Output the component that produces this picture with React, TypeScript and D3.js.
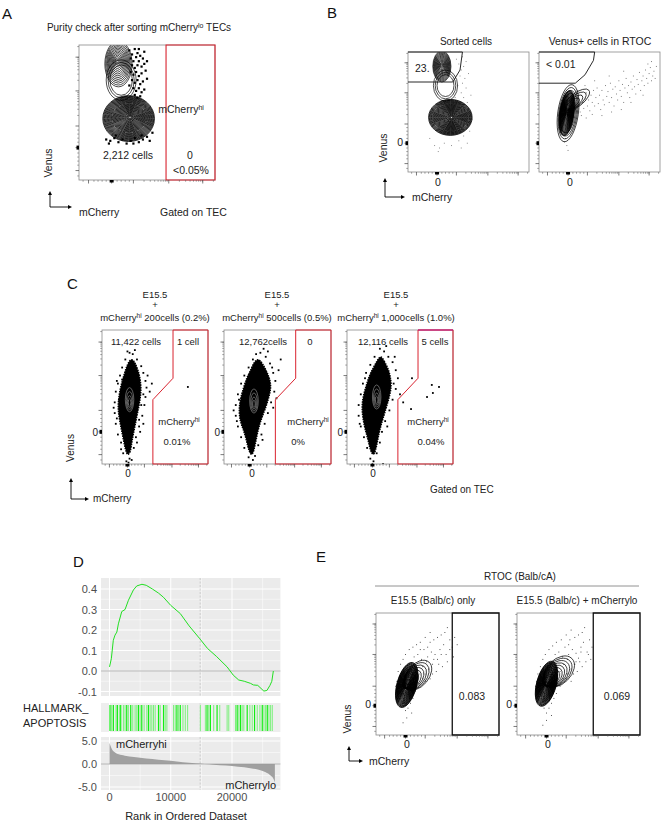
import React from 'react';
import * as d3 from 'd3';

const FONT = 'Liberation Sans, Arial, Helvetica, sans-serif';

// ---------------- GSEA data (panel D) ----------------
const esRank = [0, 300, 620, 900, 1200, 1450, 2000, 2540, 3090, 3900, 4450, 5300, 6000, 7000, 8000, 8800, 10000, 11560, 13000, 14670, 16000, 17500, 19200, 20200, 21100, 22000, 23000, 23500, 24200, 25200, 25700, 26200, 26500, 26750];
const esValue = [0.02, 0.06, 0.15, 0.175, 0.19, 0.23, 0.29, 0.30, 0.345, 0.395, 0.415, 0.423, 0.418, 0.40, 0.38, 0.36, 0.32, 0.28, 0.22, 0.16, 0.11, 0.07, 0.02, -0.02, -0.044, -0.05, -0.06, -0.068, -0.07, -0.098, -0.095, -0.07, -0.05, 0.0];
const metricRank = [0, 150, 400, 800, 1500, 2500, 4000, 6000, 8000, 10000, 12000, 14000, 15500, 17000, 19000, 21000, 23000, 24500, 25500, 26300, 26800, 27000];
const metricValue = [4.6, 4.0, 3.2, 2.6, 2.1, 1.8, 1.5, 1.2, 0.95, 0.7, 0.4, 0.15, 0, -0.15, -0.35, -0.6, -0.9, -1.3, -1.8, -2.5, -3.3, -4.0];
const hitsStrong = [82, 628, 1283, 1830, 2813, 3468, 4725, 5271, 6363, 8002, 8822, 11009, 11555, 15925, 16471, 17564, 20842, 21388, 22481, 23683, 24940, 25759];
const hitsLight = [355, 1065, 1611, 2267, 2540, 3086, 3796, 4179, 4452, 4998, 5653, 6090, 6636, 6910, 7183, 7456, 8275, 9095, 9368, 10460, 10736, 11282, 11992, 12374, 12757, 14833, 15652, 16198, 17017, 18001, 19203, 19476, 20569, 21115, 21661, 21934, 22918, 23300, 24120, 24557, 25213, 25486, 26032, 26305, 26578];
const esTicksY = [-0.1, 0.0, 0.1, 0.2, 0.3, 0.4];
const metricTicksY = [-5, 0, 5];
const rankTicks = [0, 10000, 20000];
const midRank = 14800;

// ---------------- FACS data (all in 0-100 plot units) ----------------
type Pop = { x: number; y: number; rx: number; ry: number; rot?: number; levels: number; dx?: number; dy?: number; minF?: number; color?: string; sw?: number };

const popsA: Pop[] = [
  { x: 31, y: 74, rx: 11, ry: 15, levels: 3, minF: 0.75 },
  { x: 29, y: 86, rx: 10, ry: 17, levels: 14, dx: -1, dy: 2, minF: 0.08 },
  { x: 36.5, y: 45.5, rx: 19, ry: 17, levels: 34, dx: 1, dy: 1, minF: 0.05, sw: 0.8 },
];
const dotsA = [[37, 96], [39, 93], [41, 97], [43, 94], [38, 90], [40, 88], [42, 91], [45, 92], [44, 88], [47, 90], [39, 85], [41, 83], [43, 85], [46, 84], [48, 86], [38, 80], [40, 78], [42, 80], [44, 77], [46, 79], [49, 81], [39, 74], [41, 72], [43, 74], [45, 71], [47, 73], [40, 68], [42, 66], [44, 68], [46, 65], [48, 67], [41, 63], [43, 61], [45, 62], [37, 70], [50, 75], [48, 95], [44, 97], [50, 88],
  [20, 30], [23, 29], [26, 31], [29, 28], [32, 30], [35, 27], [38, 29], [41, 31], [44, 28], [47, 30], [50, 32], [52, 29], [22, 27], [40, 27], [46, 33], [27, 33], [54, 35]];
const gateA = [[64, 100], [100, 100], [100, 0], [64, 0]];

const popsB1: Pop[] = [
  { x: 31, y: 72, rx: 10, ry: 13, levels: 3, minF: 0.7 },
  { x: 28, y: 88, rx: 7.5, ry: 13, levels: 16, dy: 1, minF: 0.08 },
  { x: 35, y: 45.5, rx: 18, ry: 15, levels: 32, dx: 1, minF: 0.05, sw: 0.8 },
];
const dotsB1 = [[42, 90], [44, 85], [46, 88], [43, 80], [47, 78], [45, 74], [48, 70], [44, 66], [46, 62], [49, 58], [43, 55], [47, 52], [50, 48], [45, 44], [48, 40], [44, 36], [51, 34], [46, 30], [42, 26], [49, 24], [44, 20], [22, 22], [26, 20], [30, 24], [18, 28], [40, 94], [45, 96], [50, 82], [41, 72], [52, 64], [39, 62], [53, 44], [36, 22], [25, 17], [43, 47], [48, 92]];
const gateB1 = [[0, 75], [37, 75], [43, 85], [45, 100], [0, 100]];

const popsB2: Pop[] = [
  { x: 31, y: 60, rx: 13, ry: 5.5, rot: -38, levels: 4, dx: -3, dy: -3, minF: 0.5 },
  { x: 24, y: 49, rx: 8.5, ry: 24, rot: 8, levels: 4, minF: 0.7 },
  { x: 23, y: 49, rx: 6, ry: 19, rot: 8, levels: 26, minF: 0.06, sw: 0.8 },
];
const dotsB2 = [[28, 58], [30, 52], [31, 62], [33, 56], [34, 50], [35, 64], [36, 58], [37, 53], [38, 61], [39, 66], [40, 55], [41, 60], [42, 51], [43, 64], [44, 58], [45, 68], [46, 55], [47, 62], [48, 70], [49, 57], [50, 64], [51, 52], [52, 68], [53, 60], [54, 56], [55, 72], [56, 63], [57, 67], [58, 58], [59, 74], [60, 62], [61, 69], [62, 55], [63, 71], [64, 65], [65, 60], [66, 76], [67, 68], [68, 63], [69, 73], [70, 58], [71, 70], [72, 78], [73, 66], [74, 72], [75, 62], [76, 75], [77, 69], [78, 80], [79, 71], [80, 65], [81, 77], [82, 73], [83, 83], [84, 68], [85, 76], [86, 80], [87, 72], [88, 85], [89, 78], [90, 74], [91, 82], [92, 87], [93, 76], [94, 80], [95, 84], [96, 78], [97, 88], [44, 48], [52, 47], [60, 50], [68, 52], [76, 58], [86, 64], [32, 68], [38, 72], [46, 76], [58, 80], [70, 84], [22, 28], [23, 22], [24, 18], [21, 25], [35, 47], [39, 45], [90, 90], [93, 92]];
const gateB2 = [[0, 74], [30, 74], [38, 81], [45, 93], [46, 100], [0, 100]];

// Panel C blobs
const blobC1 = [[28, 79], [31, 76], [34, 70], [36, 64], [37, 56], [36, 48], [34, 40], [32, 32], [30, 24], [28, 16], [27, 9], [24, 6], [22, 11], [20, 19], [18, 27], [16, 35], [15, 43], [16, 51], [18, 59], [21, 67], [24, 75]];
const dotsC1 = [[26, 83], [29, 82], [33, 78], [37, 73], [39, 68], [41, 62], [42, 57], [41, 50], [40, 44], [38, 36], [35, 28], [32, 20], [30, 12], [26, 4], [23, 2], [20, 8], [18, 16], [15, 22], [13, 30], [12, 38], [12, 46], [13, 54], [15, 60], [17, 66], [19, 72], [22, 78], [45, 54], [47, 60], [31, 85], [24, 84], [18, 11], [36, 24], [39, 30], [11, 42], [43, 66], [14, 62], [81, 57.5], [34, 64], [39, 52], [37, 44], [14, 34], [16, 48], [19, 63], [35, 33], [33, 16], [28, 3], [25, 1]];
const blobC2 = [[32, 79], [36, 75], [40, 69], [43, 63], [44, 57], [42, 50], [39, 42], [35, 34], [32, 26], [30, 18], [28, 10], [26, 6], [23, 10], [21, 18], [18, 26], [15, 32], [14, 40], [15, 48], [18, 56], [21, 64], [25, 70], [28, 76]];
const dotsC2 = [[34, 83], [39, 80], [43, 75], [46, 68], [48, 62], [47, 54], [44, 46], [41, 38], [38, 30], [35, 22], [32, 14], [29, 6], [27, 3], [23, 5], [19, 12], [16, 20], [13, 28], [11, 36], [11, 44], [13, 52], [16, 60], [19, 66], [23, 72], [27, 78], [53, 78], [51, 70], [30, 82], [9, 40], [41, 84], [37, 86], [46, 42], [49, 49], [45, 72], [12, 32], [14, 48], [40, 58], [36, 18]];
const blobC3 = [[32, 81], [35, 77], [39, 71], [41, 65], [42, 58], [40, 50], [37, 42], [34, 34], [31, 26], [29, 18], [27, 10], [25, 6], [22, 10], [20, 18], [17, 26], [15, 34], [14, 42], [15, 50], [18, 58], [21, 66], [25, 72], [29, 78]];
const dotsC3 = [[31, 86], [35, 84], [39, 80], [43, 76], [46, 70], [48, 64], [46, 56], [43, 48], [40, 40], [36, 32], [33, 24], [31, 16], [28, 8], [25, 2], [22, 4], [19, 12], [16, 20], [13, 28], [11, 36], [11, 44], [13, 52], [15, 60], [18, 68], [22, 74], [26, 80], [50, 52], [53, 46], [24, 0], [34, 0], [37, 88], [45, 80], [61.3, 64], [80, 59], [86.8, 57.5], [81, 53], [75.5, 50], [60.4, 41], [12, 30], [44, 60], [17, 64], [38, 28]];
const coreC = [{ x: 26, y: 48 }, { x: 28, y: 47 }, { x: 28, y: 50 }];
const gateC = [[67, 100], [100, 100], [100, 0], [48, 0], [48, 48], [67, 64]];

// Panel E
const popsE1: Pop[] = [
  { x: 34, y: 49, rx: 14, ry: 9, rot: -50, levels: 9, dx: -9, dy: -7, minF: 0.3 },
  { x: 25, y: 41, rx: 8, ry: 19, rot: 15, levels: 30, minF: 0.05, sw: 0.8 },
];
const dotsE1 = [[18, 52], [20, 58], [22, 62], [24, 66], [27, 70], [30, 72], [33, 74], [36, 76], [39, 70], [42, 72], [45, 68], [48, 66], [50, 62], [46, 58], [43, 54], [40, 50], [38, 46], [35, 42], [32, 36], [30, 30], [28, 26], [26, 22], [24, 20], [22, 24], [20, 30], [18, 36], [17, 44], [52, 70], [55, 74], [57, 66], [60, 78], [58, 60], [54, 56], [49, 52], [44, 46], [41, 60], [37, 62], [34, 66], [31, 64], [62, 72], [64, 80], [47, 78], [50, 80], [53, 82], [56, 84], [40, 80], [25, 14], [22, 10], [29, 18], [38, 56], [42, 64], [46, 50], [51, 58], [35, 50], [60, 70], [44, 84], [58, 88], [63, 64], [66, 74], [16, 40], [19, 48], [21, 34], [27, 30], [33, 40], [40, 44], [47, 62], [53, 66], [44, 76], [36, 70]];
const popsE2: Pop[] = [
  { x: 34, y: 52, rx: 15, ry: 10, rot: -45, levels: 10, dx: -9, dy: -8, minF: 0.3 },
  { x: 24, y: 42, rx: 8, ry: 19, rot: 15, levels: 30, minF: 0.05, sw: 0.8 },
];
const dotsE2 = [[17, 50], [19, 56], [21, 62], [23, 66], [26, 70], [29, 73], [32, 76], [36, 78], [39, 72], [42, 74], [45, 70], [48, 67], [50, 63], [47, 58], [44, 54], [41, 50], [38, 46], [35, 40], [32, 34], [30, 30], [28, 26], [26, 22], [24, 18], [22, 22], [20, 30], [18, 36], [16, 44], [52, 72], [54, 76], [57, 68], [59, 78], [56, 60], [53, 56], [49, 52], [44, 44], [41, 62], [37, 64], [34, 68], [31, 66], [61, 72], [47, 80], [50, 82], [53, 84], [40, 82], [24, 12], [21, 8], [28, 16], [38, 58], [42, 66], [46, 50], [51, 60], [35, 52], [58, 66], [44, 86], [55, 88], [60, 62], [15, 40], [18, 46], [20, 32], [26, 28], [33, 42], [40, 46], [48, 60], [52, 68], [43, 78]];
const gateE = [[62, 100], [100, 100], [100, 0], [62, 0]];

// FACS axis ticks
const facsMajor = [7, 24, 40, 66, 91];
const facsLinMinor = [3, 11, 14, 17, 20, 28, 31, 34, 37];
const facsDecades = [40, 66, 91];
const facsDecadeSpan = 26;
const facsZero = 24;

function facsMinorTicks(): number[] {
  const out = [...facsLinMinor];
  facsDecades.forEach((d) => {
    for (let k = 2; k < 10; k++) {
      const v = d + Math.log10(k) * facsDecadeSpan;
      if (v < 99) out.push(v);
    }
  });
  return out;
}

type FacsProps = {
  id: string; left: number; top: number; w: number; h: number;
  pops?: Pop[]; dots?: number[][]; dotSize?: number; dotColor?: string;
  blob?: number[][]; core?: { x: number; y: number }[];
  gate?: number[][]; gateColor?: string; gateWidth?: number; gateClosed?: boolean;
  under?: React.ReactNode;
};

function FacsPlot(p: FacsProps) {
  const sx = d3.scaleLinear().domain([0, 100]).range([p.left, p.left + p.w]);
  const sy = d3.scaleLinear().domain([0, 100]).range([p.top + p.h, p.top]);
  const kx = p.w / 100, ky = p.h / 100;
  const minor = facsMinorTicks();
  const line = d3.line<number[]>().x((d) => sx(d[0])).y((d) => sy(d[1]));
  const blobLine = d3.line<number[]>().x((d) => sx(d[0])).y((d) => sy(d[1])).curve(d3.curveBasisClosed);
  const rings: React.ReactNode[] = [];
  (p.pops || []).forEach((pop, pi) => {
    const minF = pop.minF ?? 0.08;
    for (let k = 0; k < pop.levels; k++) {
      const t = pop.levels > 1 ? k / (pop.levels - 1) : 0;
      const f = 1 - t * (1 - minF);
      const cx = sx(pop.x + (pop.dx || 0) * t);
      const cy = sy(pop.y + (pop.dy || 0) * t);
      rings.push(
        <ellipse key={`r${pi}-${k}`} cx={cx} cy={cy} rx={pop.rx * kx * f} ry={pop.ry * ky * f}
          transform={`rotate(${pop.rot || 0} ${cx} ${cy})`} fill="none" stroke={pop.color || '#000'} strokeWidth={pop.sw || 0.7} />
      );
    }
  });
  const ds = p.dotSize ?? 1.2;
  return (
    <g>
      <defs>
        <clipPath id={p.id}><rect x={p.left} y={p.top} width={p.w} height={p.h} /></clipPath>
      </defs>
      <rect x={p.left} y={p.top} width={p.w} height={p.h} fill="#fff" />
      {p.under}
      <g clipPath={`url(#${p.id})`}>
        {(p.dots || []).map((d, i) => (
          <rect key={`d${i}`} x={sx(d[0]) - ds / 2} y={sy(d[1]) - ds / 2} width={ds} height={ds} fill={p.dotColor || '#000'} />
        ))}
        {p.blob && <path d={blobLine(p.blob) || ''} fill="#000" stroke="#000" strokeWidth={1.5} strokeDasharray="1.5,1" />}
        {rings}
        {(p.core || []).map((c, i) => (
          <g key={`c${i}`}>
            {[1, 0.75, 0.5, 0.3].map((f, j) => (
              <ellipse key={j} cx={sx(c.x)} cy={sy(c.y) + 4 * (1 - f)} rx={4 * kx * f} ry={9 * ky * f} fill="none" stroke="#9a9a9a" strokeWidth={0.6} />
            ))}
          </g>
        ))}
      </g>
      <rect x={p.left} y={p.top} width={p.w} height={p.h} fill="none" stroke="#8a8a8a" strokeWidth={0.8} />
      {p.gate && (
        <path d={(line(p.gate) || '') + (p.gateClosed === false ? '' : 'Z')} fill="none" stroke={p.gateColor || '#000'} strokeWidth={p.gateWidth || 1} />
      )}
      {facsMajor.map((v, i) => (
        <g key={`M${i}`}>
          <line x1={p.left} x2={p.left - 3.5} y1={sy(v)} y2={sy(v)} stroke="#444" strokeWidth={0.7} />
          <line y1={p.top + p.h} y2={p.top + p.h + 3.5} x1={sx(v)} x2={sx(v)} stroke="#444" strokeWidth={0.7} />
        </g>
      ))}
      {minor.map((v, i) => (
        <g key={`m${i}`}>
          <line x1={p.left} x2={p.left - 1.8} y1={sy(v)} y2={sy(v)} stroke="#555" strokeWidth={0.5} />
          <line y1={p.top + p.h} y2={p.top + p.h + 1.8} x1={sx(v)} x2={sx(v)} stroke="#555" strokeWidth={0.5} />
        </g>
      ))}
      <rect x={p.left - 2.5} y={sy(facsZero) - 2} width={2.5} height={4} fill="#000" />
      <rect x={sx(facsZero) - 2} y={p.top + p.h} width={4} height={2.5} fill="#000" />
    </g>
  );
}

function T(props: any) {
  const { children, size = 10, anchor = 'start', fill = '#222', ...rest } = props;
  return (
    <text fontFamily={FONT} fontSize={size} textAnchor={anchor} fill={fill} {...rest}>{children}</text>
  );
}

function Sup({ t, size = 7 }: { t: string; size?: number }) {
  return <tspan dy={-3.5} fontSize={size}>{t}</tspan>;
}

function AxisArrow({ x, y, up, right }: { x: number; y: number; up: number; right: number }) {
  return (
    <g>
      <line x1={x} y1={y} x2={x} y2={y - up + 3} stroke="#000" strokeWidth={0.9} />
      <path d={`M${x - 2},${y - up + 4} L${x},${y - up} L${x + 2},${y - up + 4} Z`} fill="#000" />
      <line x1={x} y1={y} x2={x + right - 3} y2={y} stroke="#000" strokeWidth={0.9} />
      <path d={`M${x + right - 4},${y - 2} L${x + right},${y} L${x + right - 4},${y + 2} Z`} fill="#000" />
    </g>
  );
}

function GseaPanel() {
  const gx = d3.scaleLinear().domain([0, 20000]).range([109.5, 232]);
  const xL = gx(-1390), xR = gx(27900);
  const gy = d3.scaleLinear().domain([0, 0.4]).range([671, 589]);
  const my = d3.scaleLinear().domain([-5, 5]).range([787, 741]);
  const top1 = 578, bot1 = 696, top2 = 703, bot2 = 732, top3 = 737, bot3 = 790;
  const esLine = d3.line<number>().x((_, i) => gx(esRank[i])).y((d) => gy(d));
  const mArea = d3.area<number>().x((_, i) => gx(metricRank[i])).y0(my(0)).y1((d) => my(d)).curve(d3.curveMonotoneX);
  const xMajor = rankTicks;
  const xMinor = [5000, 15000, 25000];
  const esMinor = [-0.05, 0.05, 0.15, 0.25, 0.35];
  const mMinor = [-2.5, 2.5];
  const bg = '#ebebeb';
  const labCol = '#4d4d4d';
  return (
    <g>
      <rect x={xL} y={top1} width={xR - xL} height={bot1 - top1} fill={bg} />
      {esMinor.map((v) => <line key={`em${v}`} x1={xL} x2={xR} y1={gy(v)} y2={gy(v)} stroke="#fff" strokeWidth={0.5} />)}
      {xMinor.map((v) => <line key={`xm${v}`} x1={gx(v)} x2={gx(v)} y1={top1} y2={bot1} stroke="#fff" strokeWidth={0.5} />)}
      {esTicksY.map((v) => <line key={`eM${v}`} x1={xL} x2={xR} y1={gy(v)} y2={gy(v)} stroke="#fff" strokeWidth={1} />)}
      {xMajor.map((v) => <line key={`xM${v}`} x1={gx(v)} x2={gx(v)} y1={top1} y2={bot1} stroke="#fff" strokeWidth={1} />)}
      <line x1={xL} x2={xR} y1={gy(0)} y2={gy(0)} stroke="#aaa" strokeWidth={0.9} />
      <line x1={gx(midRank)} x2={gx(midRank)} y1={top1} y2={bot1} stroke="#bbb" strokeWidth={0.7} strokeDasharray="2,1.5" />
      <path d={esLine(esValue) || ''} fill="none" stroke="#22e022" strokeWidth={1} />
      {esTicksY.map((v) => (
        <T key={`el${v}`} x={97} y={gy(v) + 4} size={11} anchor="end" fill={labCol}>{v.toFixed(1)}</T>
      ))}
      <rect x={xL} y={top2} width={xR - xL} height={bot2 - top2} fill="#eeeeee" />
      {xMajor.map((v) => <line key={`hM${v}`} x1={gx(v)} x2={gx(v)} y1={top2} y2={bot2} stroke="#fff" strokeWidth={1} />)}
      <line x1={gx(midRank)} x2={gx(midRank)} y1={top2} y2={bot2} stroke="#ccc" strokeWidth={0.6} strokeDasharray="2,1.5" />
      {hitsLight.map((r) => <line key={`hl${r}`} x1={gx(r)} x2={gx(r)} y1={top2 + 2} y2={bot2 - 1} stroke="#7cf07c" strokeWidth={1} />)}
      {hitsStrong.map((r) => <line key={`hs${r}`} x1={gx(r)} x2={gx(r)} y1={top2 + 2} y2={bot2 - 1} stroke="#12ee12" strokeWidth={1.2} />)}
      <T x={23} y={712} size={11} fill="#222">HALLMARK_</T>
      <T x={23} y={727} size={11} fill="#222">APOPTOSIS</T>
      <rect x={xL} y={top3} width={xR - xL} height={bot3 - top3} fill={bg} />
      {mMinor.map((v) => <line key={`mm${v}`} x1={xL} x2={xR} y1={my(v)} y2={my(v)} stroke="#fff" strokeWidth={0.5} />)}
      {xMinor.map((v) => <line key={`mxm${v}`} x1={gx(v)} x2={gx(v)} y1={top3} y2={bot3} stroke="#fff" strokeWidth={0.5} />)}
      {metricTicksY.map((v) => <line key={`mM${v}`} x1={xL} x2={xR} y1={my(v)} y2={my(v)} stroke="#fff" strokeWidth={1} />)}
      {xMajor.map((v) => <line key={`mxM${v}`} x1={gx(v)} x2={gx(v)} y1={top3} y2={bot3} stroke="#fff" strokeWidth={1} />)}
      <line x1={gx(midRank)} x2={gx(midRank)} y1={top3} y2={bot3} stroke="#bbb" strokeWidth={0.7} strokeDasharray="2,1.5" />
      <path d={mArea(metricValue) || ''} fill="#a0a0a0" />
      <line x1={xL} x2={xR} y1={my(0)} y2={my(0)} stroke="#999" strokeWidth={0.8} />
      {metricTicksY.map((v) => (
        <T key={`ml${v}`} x={97} y={my(v) + 4} size={11} anchor="end" fill={labCol}>{v.toFixed(1)}</T>
      ))}
      <T x={116} y={748} size={11} fill="#222">mCherryhi</T>
      <T x={276} y={789} size={11} anchor="end" fill="#222">mCherrylo</T>
      {xMajor.map((v) => (
        <T key={`xl${v}`} x={gx(v)} y={801} size={11} anchor="middle" fill={labCol}>{String(v)}</T>
      ))}
      <T x={186} y={820} size={11} anchor="middle" fill="#222">Rank in Ordered Dataset</T>
    </g>
  );
}

export default function App() {
  const red = '#d9232f';
  return (
    <svg width={663} height={823} viewBox="0 0 663 823" style={{ position: 'absolute', left: 0, top: 0, background: '#fff' }} xmlns="http://www.w3.org/2000/svg">
      <rect x={0} y={0} width={663} height={823} fill="#fff" />
      {/* ---------- Panel A ---------- */}
      <T x={2} y={19} size={15} fill="#111">A</T>
      <T x={139} y={31} size={10} anchor="middle">Purity check after sorting mCherry<Sup t="lo" /><tspan dy={3.5}> TECs</tspan></T>
      <FacsPlot id="clipA" left={79} top={45} w={136} h={135} pops={popsA} dots={dotsA} dotSize={2.2}
        gate={gateA} gateColor={red} gateWidth={1.1} />
      <T x={181} y={113} size={10.5} anchor="middle">mCherry<Sup t="hi" /></T>
      <T x={128} y={159} size={10.5} anchor="middle">2,212 cells</T>
      <T x={190} y={159} size={10.5} anchor="middle">0</T>
      <T x={191} y={174} size={10.5} anchor="middle">&lt;0.05%</T>
      <T x={0} y={0} size={10.5} anchor="middle" transform="translate(52,163) rotate(-90)">Venus</T>
      <AxisArrow x={50} y={207} up={16} right={22} />
      <T x={79} y={216} size={10.5}>mCherry</T>
      <T x={160} y={216} size={10.5}>Gated on TEC</T>

      {/* ---------- Panel B ---------- */}
      <T x={327} y={18} size={15} fill="#111">B</T>
      <T x={466} y={45} size={10} anchor="middle">Sorted cells</T>
      <T x={600} y={45} size={10.5} anchor="middle">Venus+ cells in RTOC</T>
      <FacsPlot id="clipB1" left={408} top={52} w={121} h={120} pops={popsB1} dots={dotsB1} dotSize={0.9} dotColor="#777"
        gate={gateB1} gateColor="#111" gateWidth={0.9} gateClosed={false}
        under={<T x={415} y={72} size={10.5}>23.</T>} />
      <FacsPlot id="clipB2" left={539} top={52} w={121} h={120} pops={popsB2} dots={dotsB2} dotSize={0.9} dotColor="#666"
        gate={gateB2} gateColor="#111" gateWidth={0.9} gateClosed={false}
        under={<T x={546} y={68} size={10.5}>&lt; 0.01</T>} />
      <T x={403} y={146} size={10.5} anchor="end">0</T>
      <T x={438} y={186} size={10.5} anchor="middle">0</T>
      <T x={570} y={186} size={10.5} anchor="middle">0</T>
      <T x={0} y={0} size={10.5} anchor="middle" transform="translate(387,148) rotate(-90)">Venus</T>
      <AxisArrow x={385} y={197} up={19} right={20} />
      <T x={412} y={201} size={10.5}>mCherry</T>

      {/* ---------- Panel C ---------- */}
      <T x={67} y={289} size={15} fill="#111">C</T>
      {[
        { cx: 155, cells: '200cells (0.2%)' },
        { cx: 277, cells: '500cells (0.5%)' },
        { cx: 396, cells: '1,000cells (1.0%)' },
      ].map((t, i) => (
        <g key={`ct${i}`}>
          <T x={t.cx} y={298} size={9.5} anchor="middle">E15.5</T>
          <T x={t.cx} y={308} size={9.5} anchor="middle">+</T>
          <T x={t.cx} y={321} size={9.5} anchor="middle">mCherry<Sup t="hi" size={6.5} /><tspan dy={3.5}> {t.cells}</tspan></T>
        </g>
      ))}
      <FacsPlot id="clipC1" left={102} top={330} w={106} h={134} blob={blobC1} dots={dotsC1} dotSize={1.8} core={[coreC[0]]}
        gate={gateC} gateColor={red} gateWidth={1} />
      <FacsPlot id="clipC2" left={224} top={330} w={107} h={134} blob={blobC2} dots={dotsC2} dotSize={1.8} core={[coreC[1]]}
        gate={gateC} gateColor={red} gateWidth={1} />
      <FacsPlot id="clipC3" left={347} top={330} w={106} h={134} blob={blobC3} dots={dotsC3} dotSize={1.8} core={[coreC[2]]}
        gate={gateC} gateColor={red} gateWidth={1} />
      <line x1={347 + 106 * 0.67} x2={453} y1={330} y2={330} stroke="#c0168a" strokeWidth={1.2} />
      <T x={136} y={345} size={9.5} anchor="middle">11,422 cells</T>
      <T x={188} y={345} size={9.5} anchor="middle">1 cell</T>
      <T x={263} y={345} size={9.5} anchor="middle">12,762cells</T>
      <T x={310} y={345} size={9.5} anchor="middle">0</T>
      <T x={383} y={345} size={9.5} anchor="middle">12,116 cells</T>
      <T x={435} y={345} size={9.5} anchor="middle">5 cells</T>
      <T x={179} y={425} size={9.5} anchor="middle">mCherry<Sup t="hi" size={6.5} /></T>
      <T x={308} y={425} size={9.5} anchor="middle">mCherry<Sup t="hi" size={6.5} /></T>
      <T x={428} y={425} size={9.5} anchor="middle">mCherry<Sup t="hi" size={6.5} /></T>
      <T x={177} y={445} size={9.5} anchor="middle">0.01%</T>
      <T x={298} y={445} size={9.5} anchor="middle">0%</T>
      <T x={431} y={445} size={9.5} anchor="middle">0.04%</T>
      <T x={98} y={436} size={10} anchor="end">0</T>
      <T x={220} y={436} size={10} anchor="end">0</T>
      <T x={343} y={436} size={10} anchor="end">0</T>
      <T x={128} y={477} size={10} anchor="middle">0</T>
      <T x={252} y={477} size={10} anchor="middle">0</T>
      <T x={373} y={477} size={10} anchor="middle">0</T>
      <T x={0} y={0} size={10} anchor="middle" transform="translate(74,448) rotate(-90)">Venus</T>
      <AxisArrow x={71} y={499} up={21} right={18} />
      <T x={93} y={502} size={10}>mCherry</T>
      <T x={430} y={493} size={10}>Gated on TEC</T>

      {/* ---------- Panel D ---------- */}
      <T x={73} y={567} size={15} fill="#111">D</T>
      <GseaPanel />

      {/* ---------- Panel E ---------- */}
      <T x={316} y={562} size={15} fill="#111">E</T>
      <T x={520} y={580} size={10} anchor="middle">RTOC (Balb/cA)</T>
      <line x1={375} x2={639} y1={586} y2={586} stroke="#777" strokeWidth={0.8} />
      <T x={433} y={604} size={10} anchor="middle">E15.5 (Balb/c) only</T>
      <T x={577} y={604} size={10} anchor="middle">E15.5 (Balb/c) + mCherrylo</T>
      <FacsPlot id="clipE1" left={376} top={613} w={123} h={122} pops={popsE1} dots={dotsE1} dotSize={0.9} dotColor="#333"
        gate={gateE} gateColor="#111" gateWidth={1.3} />
      <FacsPlot id="clipE2" left={517} top={613} w={123} h={122} pops={popsE2} dots={dotsE2} dotSize={0.9} dotColor="#333"
        gate={gateE} gateColor="#111" gateWidth={1.3} />
      <T x={472} y={700} size={10.5} anchor="middle">0.083</T>
      <T x={617} y={700} size={10.5} anchor="middle">0.069</T>
      <T x={371} y={708} size={10.5} anchor="end">0</T>
      <T x={512} y={708} size={10.5} anchor="end">0</T>
      <T x={407} y={748} size={10.5} anchor="middle">0</T>
      <T x={548} y={748} size={10.5} anchor="middle">0</T>
      <T x={0} y={0} size={10.5} anchor="middle" transform="translate(351,719) rotate(-90)">Venus</T>
      <AxisArrow x={349} y={761} up={15} right={14} />
      <T x={369} y={765} size={10.5}>mCherry</T>
    </svg>
  );
}
